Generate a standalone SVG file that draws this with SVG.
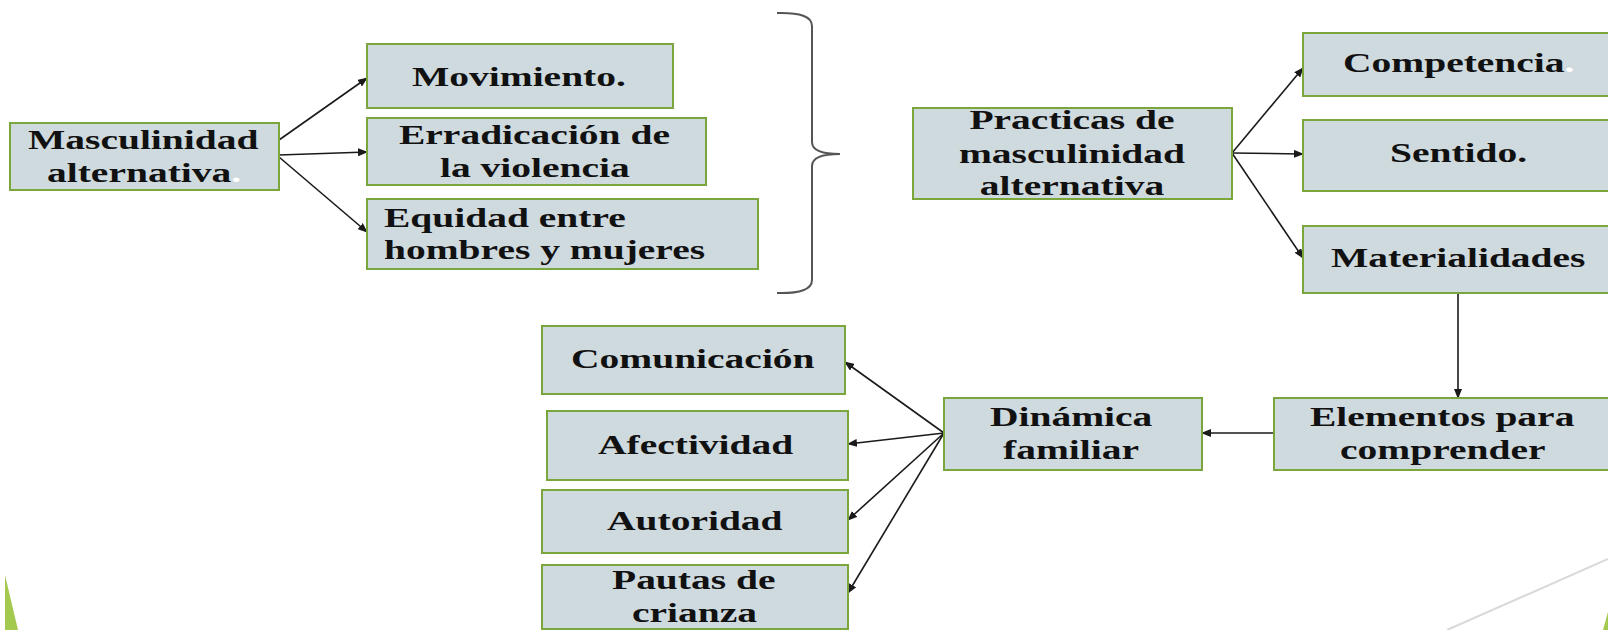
<svg xmlns="http://www.w3.org/2000/svg" width="1608" height="630" viewBox="0 0 1608 630">
<style>
.box{fill:#cfdadf;stroke:#7aa63c;stroke-width:2}
.t{font-family:"Liberation Serif","Times New Roman",serif;font-weight:bold;font-size:27px;fill:#111}
.c{text-anchor:middle}
.con{stroke:#1a1a1a;stroke-width:1.6;fill:none;marker-end:url(#ah)}
.dot{fill:#ffffff}
</style>
<defs>
<marker id="ah" markerUnits="userSpaceOnUse" markerWidth="10" markerHeight="8" refX="9" refY="4" orient="auto">
<path d="M0,0 L10,4 L0,8 Z" fill="#1a1a1a"/>
</marker>
</defs>
<rect width="1608" height="630" fill="#ffffff"/>
<g id="decor">
<polygon points="5,575 5,630 18,630" fill="#a4c94f"/>
<line x1="1447" y1="630" x2="1608" y2="559" stroke="#d9d9d9" stroke-width="2"/>
<polygon points="1603,630 1608,612 1608,630" fill="#a4c94f"/>
<path d="M777,13 Q812,12 812,26 L812,142 Q812,154 840,154 Q812,154 812,166 L812,280 Q812,294 777,293" fill="none" stroke="#555" stroke-width="2"/>
</g>
<g id="connectors">
<line class="con" x1="279" y1="140" x2="367" y2="78"/>
<line class="con" x1="279" y1="155" x2="367" y2="152"/>
<line class="con" x1="279" y1="157" x2="367" y2="232"/>
<line class="con" x1="1232" y1="153" x2="1303" y2="68"/>
<line class="con" x1="1232" y1="153" x2="1303" y2="154"/>
<line class="con" x1="1232" y1="153" x2="1303" y2="258"/>
<line class="con" x1="1458" y1="294" x2="1458" y2="398"/>
<line class="con" x1="1274" y1="433" x2="1202" y2="433"/>
<line class="con" x1="944" y1="433" x2="845" y2="362"/>
<line class="con" x1="944" y1="433" x2="848" y2="444"/>
<line class="con" x1="944" y1="433" x2="848" y2="520"/>
<line class="con" x1="944" y1="433" x2="848" y2="593"/>
</g>
<g id="n-masculinidad">
<rect class="box" x="10" y="123" width="269" height="67"/>
<text class="t" transform="translate(28,149) scale(1.463,1)">Masculinidad</text>
<text class="t" transform="translate(47,182) scale(1.463,1)">alternativa<tspan class="dot">.</tspan></text>
</g>
<g id="n-movimiento">
<rect class="box" x="367" y="44" width="306" height="64"/>
<text class="t" transform="translate(412,86) scale(1.463,1)">Movimiento.</text>
</g>
<g id="n-erradicacion">
<rect class="box" x="367" y="118" width="339" height="67"/>
<text class="t" transform="translate(399,144) scale(1.463,1)">Erradicación de</text>
<text class="t" transform="translate(440,177) scale(1.463,1)">la violencia</text>
</g>
<g id="n-equidad">
<rect class="box" x="367" y="199" width="391" height="70"/>
<text class="t" transform="translate(384,227) scale(1.463,1)">Equidad entre</text>
<text class="t" transform="translate(384,259) scale(1.463,1)">hombres y mujeres</text>
</g>
<g id="n-practicas">
<rect class="box" x="913" y="108" width="319" height="91"/>
<text class="t c" transform="translate(1072,129) scale(1.463,1)">Practicas de</text>
<text class="t c" transform="translate(1072,163) scale(1.463,1)">masculinidad</text>
<text class="t c" transform="translate(1072,195) scale(1.463,1)">alternativa</text>
</g>
<g id="n-competencia">
<rect class="box" x="1303" y="33" width="320" height="63"/>
<text class="t" transform="translate(1343,72) scale(1.463,1)">Competencia<tspan class="dot">.</tspan></text>
</g>
<g id="n-sentido">
<rect class="box" x="1303" y="120" width="320" height="71"/>
<text class="t" transform="translate(1390,162) scale(1.463,1)">Sentido.</text>
</g>
<g id="n-materialidades">
<rect class="box" x="1303" y="226" width="320" height="67"/>
<text class="t" transform="translate(1331,267) scale(1.463,1)">Materialidades</text>
</g>
<g id="n-elementos">
<rect class="box" x="1274" y="398" width="350" height="72"/>
<text class="t" transform="translate(1310,426) scale(1.463,1)">Elementos para</text>
<text class="t" transform="translate(1340,459) scale(1.463,1)">comprender</text>
</g>
<g id="n-dinamica">
<rect class="box" x="944" y="398" width="258" height="72"/>
<text class="t" transform="translate(990,426) scale(1.463,1)">Dinámica</text>
<text class="t" transform="translate(1003,459) scale(1.463,1)">familiar</text>
</g>
<g id="n-comunicacion">
<rect class="box" x="542" y="326" width="303" height="68"/>
<text class="t" transform="translate(571,368) scale(1.463,1)">Comunicación</text>
</g>
<g id="n-afectividad">
<rect class="box" x="547" y="411" width="301" height="69"/>
<text class="t" transform="translate(598,454) scale(1.463,1)">Afectividad</text>
</g>
<g id="n-autoridad">
<rect class="box" x="542" y="490" width="306" height="63"/>
<text class="t" transform="translate(607,530) scale(1.463,1)">Autoridad</text>
</g>
<g id="n-pautas">
<rect class="box" x="542" y="565" width="306" height="64"/>
<text class="t" transform="translate(612,589) scale(1.463,1)">Pautas de</text>
<text class="t" transform="translate(632,622) scale(1.463,1)">crianza</text>
</g>
</svg>
